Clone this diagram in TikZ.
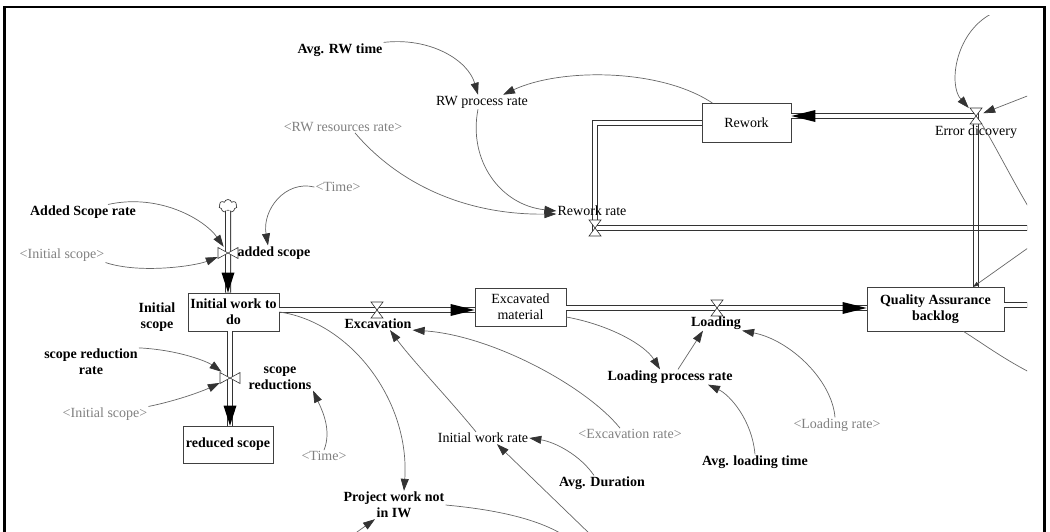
\documentclass[tikz,border=0pt]{standalone}
\usepackage{fontspec}
\setmainfont{Liberation Serif}
\usetikzlibrary{arrows.meta,shapes.symbols}
\begin{document}
\begin{tikzpicture}[x=1pt,y=-1pt,
  txt/.style={font=\fontsize{14}{16}\selectfont, inner sep=1pt, align=center, text=black},
  lb/.style={txt, font=\fontsize{14}{16}\selectfont\bfseries},
  rg/.style={txt},
  sh/.style={txt, text=black!50},
  stock/.style={draw=black!75, line width=0.8pt, fill=white},
  vnode/.style={inner sep=0pt, minimum width=14pt, minimum height=16pt},
  hnode/.style={inner sep=0pt, minimum width=20pt, minimum height=12pt},
  pipe/.style={draw=black!80, line width=1pt, double=white, double distance=4pt, line join=miter},
  valve/.style={draw=black!80, fill=white, line width=0.6pt, line join=miter},
  conn/.style={draw=black!60, line width=0.7pt, -{Triangle[length=12pt,width=8pt,color=black!80]}},
  connline/.style={draw=black!60, line width=0.7pt},
  hg/.pic={\draw[valve] (-6,-8) -- (6,-8) -- (0,0) -- cycle (0,0) -- (-6,8) -- (6,8) -- cycle;},
  bt/.pic={\draw[valve] (-10,-5.5) -- (-10,5.5) -- (0,0) -- cycle (0,0) -- (10,-5.5) -- (10,5.5) -- cycle;}
]
\useasboundingbox (0,0) rectangle (1050,531);
\begin{scope}
\clip (0,15) rectangle (1027,531);
% stocks
\node[stock, lb, minimum width=91pt, minimum height=38pt] (IWTD) at (233.5,312) {Initial work to\\do};
\node[stock, lb, minimum width=90pt, minimum height=37pt] (RS) at (228,444.5) {reduced scope};
\node[stock, rg, minimum width=91pt, minimum height=38pt] (ExcM) at (520.5,307) {Excavated\\material};
\node[stock, lb, minimum width=137pt, minimum height=44pt] (QA) at (935.5,309) {Quality Assurance\\backlog};
\node[stock, rg, minimum width=89pt, minimum height=39pt] (RW) at (746.5,123) {Rework};
% valve places
\node[hnode] (vAdd) at (228,253) {};
\node[hnode] (vRed) at (230,378) {};
\node[vnode] (vExc) at (377,310) {};
\node[vnode] (vLoad) at (717,308) {};
\node[vnode] (vRR) at (595,228) {};
\node[vnode] (vErr) at (976,116) {};
\node[cloud, cloud puffs=7, draw=black!85, line width=0.6pt, fill=white, minimum width=18pt, minimum height=13pt, inner sep=0pt, aspect=1.4] (cl) at (228,206) {};
\coordinate (qaOut) at (1035,305);
\coordinate (rrOut) at (1035,228);
% pipes
\draw[pipe] (cl.south) -- (IWTD.north -| vAdd);
\draw[pipe] (IWTD.south -| vRed) -- (RS.north -| vRed);
\draw[pipe] (IWTD.east |- vExc) -- (ExcM.west |- vExc);
\draw[pipe] (ExcM.east |- vLoad) -- (QA.west |- vLoad);
\draw[pipe] (QA.east |- qaOut) -- (qaOut);
\draw[pipe] (RW.west) -- (vRR |- RW.west) -- (vRR.center) -- (rrOut);
\draw[pipe] (QA.north -| vErr) -- (vErr.center) -- (RW.east |- vErr);
\draw[draw=black!80, line width=1pt] (973.5,225.5) -- (978.5,225.5) (973.5,230.5) -- (978.5,230.5);
% valves
\pic at (vAdd) {bt};
\pic at (vRed) {bt};
\pic at (vExc) {hg};
\pic at (vLoad) {hg};
\pic at (vRR) {hg};
\pic at (vErr) {hg};
% pipe heads
\fill[black] (IWTD.north -| vAdd) -- ++(-6.5,-20) -- ++(13,0) -- cycle;
\fill[black] (RS.north -| vRed) -- ++(-6.5,-20) -- ++(13,0) -- cycle;
\fill[black] (ExcM.west |- vExc) -- ++(-24,-6) -- ++(0,12) -- cycle;
\fill[black] (QA.west |- vLoad) -- ++(-24,-6) -- ++(0,12) -- cycle;
\fill[black] (RW.east |- vErr) -- ++(24,-6) -- ++(0,12) -- cycle;
% labels
\node[lb] (ASR) at (83,212) {Added Scope rate};
\node[sh] (IS1) at (62,255) {<Initial scope>};
\node[sh] (T1) at (338,187) {<Time>};
\node[lb] (AS) at (274,253) {added scope};
\node[lb] (ISc) at (157,317) {Initial\\scope};
\node[lb] (SRR) at (91,362) {scope reduction\\rate};
\node[sh] (IS2) at (105,414) {<Initial scope>};
\node[lb] (SR) at (280,378) {scope\\reductions};
\node[sh] (T2) at (324,456) {<Time>};
\node[lb] (Exc) at (378,324) {Excavation};
\node[lb] (Load) at (716,323) {Loading};
\node[lb] (LPR) at (670,377) {Loading process rate};
\node[sh] (LR) at (837,425) {<Loading rate>};
\node[lb] (ALT) at (755,462) {Avg. loading time};
\node[sh] (ExR) at (630,434) {<Excavation rate>};
\node[rg] (IWR) at (483,438) {Initial work rate};
\node[lb] (AvgD) at (602,483) {Avg. Duration};
\node[lb] (PW) at (394,505) {Project work not\\in IW};
\node[lb] (AvgRW) at (340,50) {Avg. RW time};
\node[rg] (RWPR) at (482,102) {RW process rate};
\node[sh] (RWres) at (343,127) {<RW resources rate>};
\node[rg] (RR) at (592,211) {Rework rate};
\node[rg] (ED) at (976,132) {Error dicovery};
% off-picture ends
\coordinate (offB1) at (592,536);
\coordinate (offB2) at (350,537);
\coordinate (offB3) at (565,536);
\coordinate (offR1) at (1035,375);
\coordinate (offR2) at (1035,243);
\coordinate (offR3) at (1035,218);
\coordinate (offR4) at (1035,93);
\coordinate (offT) at (995,12);
\coordinate (qaTop) at (973,287);
% connectors
\draw[conn] ([xshift=25pt]ASR.north) .. controls (160,193) and (205,220) .. (vAdd);
\draw[conn] (IS1.south east) .. controls (140,274) and (195,266) .. (vAdd);
\draw[conn] (T1.west) .. controls (285,180) and (262,210) .. ([xshift=-6pt]AS.north);
\draw[conn] (SRR.north east) .. controls (180,350) and (208,362) .. (vRed);
\draw[conn] (IS2.north east) .. controls (180,400) and (205,390) .. (vRed);
\draw[conn] (T2.north) .. controls (332,430) and (322,410) .. ([xshift=33pt]SR.south);
\draw[conn] (IWTD.east) .. controls (350,322) and (410,400) .. ([xshift=10pt]PW.north);
\draw[conn] ([xshift=-7pt]IWR.north) .. controls (450,400) and (412,360) .. ([xshift=12pt]Exc.south);
\draw[conn] ([xshift=-10pt]ExR.north) .. controls (585,385) and (490,335) .. (Exc.south east);
\draw[conn] ([xshift=-8pt]AvgD.north) .. controls (580,455) and (555,442) .. (IWR.east);
\draw[conn] (offB1) -- ([xshift=14pt]IWR.south);
\draw[connline] (PW.east) .. controls (500,510) and (540,520) .. (offB3);
\draw[conn] (offB2) -- ([xshift=-19pt]PW.south);
\draw[conn] ([yshift=-10pt]ExcM.east) .. controls (610,325) and (645,345) .. ([xshift=-10pt]LPR.north);
\draw[conn] ([xshift=8pt]LPR.north) -- ([xshift=-13pt]Load.south);
\draw[conn] ([xshift=-2pt]LR.north) .. controls (832,380) and (790,340) .. (Load.south east);
\draw[conn] (ALT.north) .. controls (752,420) and (730,395) .. ([xshift=38pt]LPR.south);
\draw[connline] ([xshift=28pt]QA.south) .. controls (985,345) and (1005,360) .. (offR1);
\draw[draw=black!60, line width=0.7pt, -{Triangle[length=6pt,width=4pt,color=black!80]}] (offR2) -- (qaTop);
\draw[connline] ([xshift=6pt]ED.north) .. controls (995,145) and (1012,180) .. (offR3);
\draw[conn] (offT) .. controls (955,30) and (948,85) .. (vErr);
\draw[conn] (offR4) -- (vErr);
\draw[conn] (AvgRW.north east) .. controls (430,37) and (468,60) .. ([xshift=-4pt]RWPR.north);
\draw[conn] ([xshift=-34pt]RW.north) .. controls (660,68) and (560,68) .. ([xshift=21pt]RWPR.north);
\draw[conn] ([xshift=-4pt]RWPR.south) .. controls (468,160) and (500,205) .. (RR.west);
\draw[conn] ([xshift=12pt]RWres.south) .. controls (395,180) and (460,215) .. ([yshift=-3pt]RR.west);
\end{scope}
\draw[line width=2.2pt] (4.5,7) rectangle (1044.5,560);
\end{tikzpicture}
\end{document}
